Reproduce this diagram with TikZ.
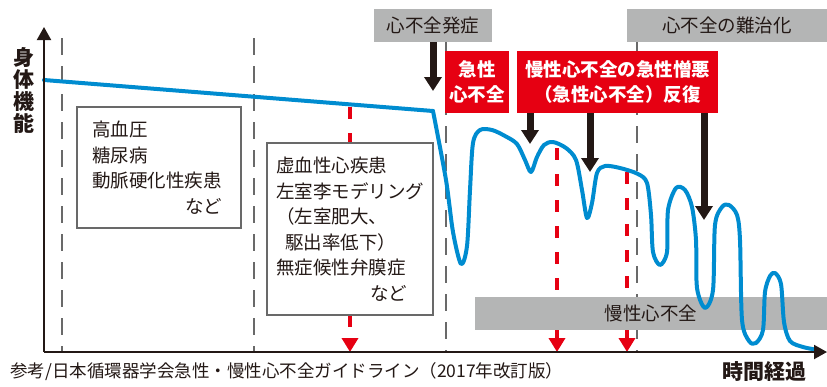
\documentclass[tikz,border=0pt]{standalone}
\usepackage{fontspec}
\setmainfont{Noto Sans CJK JP}
\usetikzlibrary{arrows.meta}
\definecolor{cblue}{RGB}{0,140,208}
\definecolor{cred}{RGB}{230,0,18}
\definecolor{cgray}{RGB}{180,181,181}
\definecolor{dgray}{RGB}{105,105,105}
\definecolor{ink}{RGB}{35,24,21}
\begin{document}
\begin{tikzpicture}[x=1pt,y=-1pt,
  font=\fontsize{18.5pt}{25.5pt}\selectfont,
  guide/.style={draw=dgray,line width=2pt,dash pattern=on 17pt off 11pt},
  reddash/.style={draw=cred,line width=4pt,dash pattern=on 12pt off 14pt,-{Triangle[width=16pt,length=14pt]}},
  blackarrow/.style={draw=ink,line width=7pt,-{Triangle[width=17pt,length=14pt]}},
  graybox/.style={fill=cgray,text=ink,inner sep=0pt,minimum height=33pt},
  redbox/.style={fill=cred,text=white,font=\bfseries\fontsize{18.5pt}{25pt}\selectfont,align=center,inner sep=0pt,minimum height=62pt},
  textbox/.style={draw=dgray,line width=1.5pt,fill=white,text=ink,align=left,inner ysep=0pt},
  curve/.style={draw=cblue,line width=4pt,line join=round,line cap=round},
  axis/.style={draw=ink,line width=2pt,-{Triangle[width=14pt,length=13pt]}},
  axislabel/.style={text=ink,font=\bfseries\fontsize{21pt}{22pt}\selectfont,inner sep=0pt,align=center}]
\useasboundingbox (0,0) rectangle (827,386);

% guide lines
\draw[guide] (62,38) -- (62,352);
\draw[guide] (254,38) -- (254,352);
\draw[guide] (446,42) -- (446,352);
\draw[guide] (637,42) -- (637,352);

% red dashed arrows
\coordinate (r1top) at (350,107);
\coordinate (r1bot) at (350,352);
\coordinate (r2top) at (557,148);
\coordinate (r2bot) at (557,352);
\coordinate (r3top) at (627,172);
\coordinate (r3bot) at (627,352);
\draw[reddash] (r1top) -- (r1bot);
\draw[reddash] (r2top) -- (r2bot);
\draw[reddash] (r3top) -- (r3bot);

% text boxes
\node[textbox,inner xsep=15pt,text width=134pt,minimum width=164pt,minimum height=121pt] (risk) at (159,167.5)
  {高血圧\\糖尿病\\動脈硬化性疾患\\\hspace*{0pt plus 1filll}など\hspace*{4pt}};
\node[textbox,inner xsep=9pt,text width=148pt,minimum width=166pt,minimum height=172pt] (struct) at (350,229)
  {虚血性心疾患\\左室李モデリング\\（左室肥大、\\\hspace*{9pt}駆出率低下）\\無症候性弁膜症\\\hspace*{0pt plus 1filll}など\hspace*{17pt}};

% chronic band
\node[graybox,minimum width=352pt] (chronic) at (651,313.5) {慢性心不全};

% blue curve
\draw[curve] (44,80) -- (433,111);
\draw[curve] plot[smooth,tension=0.5] coordinates {
 (433,111) (446,180) (453,232) (461,264) (467,246) (470,190) (473,143) (480,130)
 (492,130) (505,136) (517,144) (525,160) (531,172) (537,157) (544,145) (553,142)
 (566,148) (576,160) (582,190) (587,218) (592,203) (597,173) (605,166) (620,168)
 (638,174) (647,183) (651,215) (653,252) (660,265) (667,252) (668,210) (676,188)
 (685,190) (692,207) (696,240) (697,288) (705,308) (713,290) (715,225) (722,207)
 (729,205) (737,215) (740,240) (742,320) (749,341) (756,343) (763,330) (765,292)
 (770,276) (775,273) (781,284) (784,322) (790,341) (803,347) (818,350)};

% axes
\coordinate (origin) at (44,352);
\coordinate (ytop) at (44,27);
\coordinate (xend) at (827,352);
\draw[axis] (origin) -- (ytop);
\draw[axis] (origin) -- (xend);
\node[axislabel] (ylab) at (24,90.5) {身\\体\\機\\能};
\node[axislabel] (xlab) at (764,372) {時間経過};
\node[text=ink,anchor=west,inner sep=0pt,font=\fontsize{17.5pt}{20pt}\selectfont] (source) at (10,372)
  {参考/日本循環器学会急性・慢性心不全ガイドライン（2017年改訂版）};

% top boxes
\node[graybox,minimum width=118pt] (onset) at (433,25.5) {心不全発症};
\node[graybox,minimum width=200pt] (refractory) at (727,25.5) {心不全の難治化};
\node[redbox,minimum width=64pt] (acute) at (477,82) {急性\\心不全};
\node[redbox,minimum width=201pt] (repeat) at (617.5,82) {慢性心不全の急性憎悪\\（急性心不全）反復};

% black arrows
\coordinate (a0) at (433,91);
\coordinate (a1) at (530,144);
\coordinate (a2) at (590,172);
\coordinate (a3) at (704,220);
\draw[blackarrow] (onset.south) -- (a0);
\draw[blackarrow] (repeat.south -| a1) -- (a1);
\draw[blackarrow] (repeat.south -| a2) -- (a2);
\draw[blackarrow] (repeat.south -| a3) -- (a3);
\end{tikzpicture}
\end{document}
